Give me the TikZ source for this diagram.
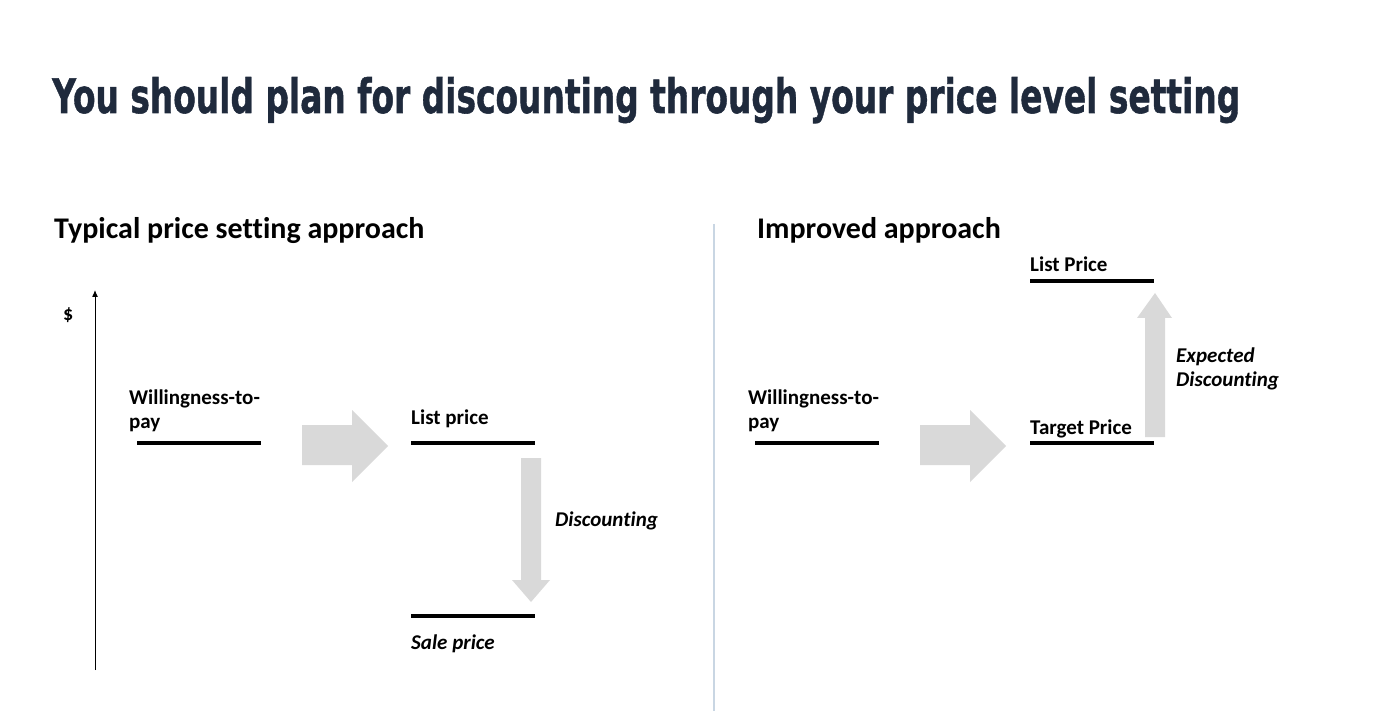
\documentclass[tikz,border=0pt]{standalone}
\usepackage{fontspec}
\usetikzlibrary{arrows.meta}
\setmainfont{Carlito}[Ligatures=NoCommon]
\newfontfamily\titlefont{DejaVu Sans Bold}[FakeBold=1.2]
\definecolor{navy}{HTML}{1F2A3C}
\definecolor{arrowgray}{HTML}{D9D9D9}
\definecolor{divider}{HTML}{C9D6E3}
\tikzset{
  lbl/.style={anchor=base west, inner sep=0pt, font=\fontsize{21}{24}\selectfont\bfseries, align=left},
  ilbl/.style={lbl, font=\fontsize{21}{24}\selectfont\bfseries\itshape},
  head/.style={anchor=base west, inner sep=0pt, font=\fontsize{30}{34}\selectfont\bfseries},
  level/.style={line width=4pt, black},
  fatarrow/.style={fill=arrowgray, draw=none},
}
\begin{document}
\begin{tikzpicture}[x=1pt,y=-1pt]
\useasboundingbox (0,0) rectangle (1400,711);
% title
\node[anchor=base west, inner sep=0pt, text=navy, font=\titlefont\fontsize{44}{50}\selectfont] (title) at (52,113) {\resizebox{1188pt}{36pt}{You should plan for discounting through your price level setting}};
% headings
\node[head] (h1) at (54,239) {Typical price setting approach};
\node[head] (h2) at (757,239) {Improved approach};
% divider
\draw[divider, line width=1.5pt] (714,224) coordinate (d1) -- (714,711) coordinate (d2);
% axis
\coordinate (ax0) at (95,670);
\coordinate (ax1) at (95,290);
\draw[line width=1pt, -{Latex[length=7pt,width=6pt]}] (ax0) -- (ax1);
\node[lbl, font=\fontsize{20}{20}\selectfont\bfseries] (dollar) at (63,320) {\$};
% left panel
\node[lbl] (wtp1) at (129,428) {Willingness-to-\\pay};
\draw[level] (137,443) coordinate (w1a) -- (261,443) coordinate (w1b);
\fill[fatarrow] (302,425) -- (352,425) -- (352,410) -- (388,446) -- (352,482) -- (352,465) -- (302,465) -- cycle;
\node[lbl] (lp1) at (411,424) {List price};
\draw[level] (411,443) coordinate (l1a) -- (535,443) coordinate (l1b);
\fill[fatarrow] (521,458) -- (541,458) -- (541,580) -- (550,580) -- (531,602) -- (512,580) -- (521,580) -- cycle;
\node[ilbl] (disc) at (555,526) {Discounting};
\draw[level] (411,616) coordinate (s1a) -- (535,616) coordinate (s1b);
\node[ilbl] (sale) at (411,649) {Sale price};
% right panel
\node[lbl] (wtp2) at (748,428) {Willingness-to-\\pay};
\draw[level] (755,443) coordinate (w2a) -- (879,443) coordinate (w2b);
\fill[fatarrow] (920,425) -- (970,425) -- (970,410) -- (1006,446) -- (970,482) -- (970,465) -- (920,465) -- cycle;
\node[lbl] (tp) at (1030,434) {Target Price};
\draw[level] (1030,443) coordinate (t2a) -- (1154,443) coordinate (t2b);
\node[lbl] (lp2) at (1030,272) {List Price};
\draw[level] (1030,281) coordinate (l2a) -- (1154,281) coordinate (l2b);
\fill[fatarrow] (1145,437) -- (1165,437) -- (1165,318) -- (1172,318) -- (1155,293) -- (1137,318) -- (1145,318) -- cycle;
\node[ilbl] (exp) at (1176,386) {Expected\\Discounting};
\end{tikzpicture}
\end{document}
